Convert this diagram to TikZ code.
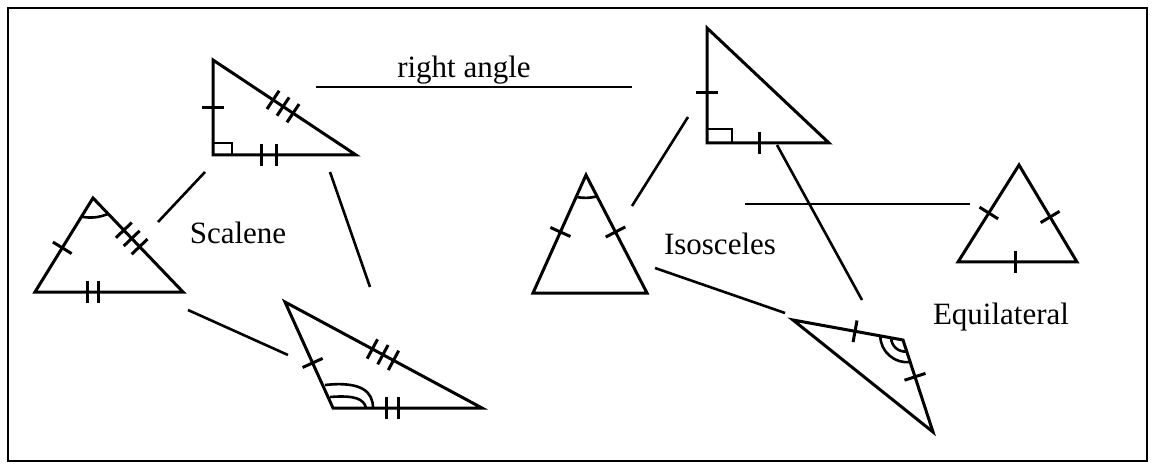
\documentclass[tikz,border=0pt]{standalone}
\usepackage{fontspec}
\setmainfont{Liberation Serif}
\usetikzlibrary{calc}
\tikzset{
  tri/.style={line width=1.5pt, line join=miter},
  conn/.style={line width=1.3pt},
  lbl/.style={font=\fontsize{15.5}{18}\selectfont, anchor=base, inner sep=0pt},
  frame/.style={line width=1pt},
  ang/.style={line width=1.3pt}
}
\newcommand{\tickset}[5]{%
  \coordinate (tkm) at ($(#1)!#3!(#2)$);
  \foreach \k in {1,...,#4}{%
    \pgfmathsetmacro{\tkoff}{(\k-(#4+1)/2)*#5}%
    \coordinate (tkc) at ($(tkm)!\tkoff pt!(#2)$);
    \draw[tri] ($(tkc)!5.5pt!90:(#2)$) -- ($(tkc)!5.5pt!-90:(#2)$);
  }%
}
\begin{document}
\begin{tikzpicture}[x=0.5pt, y=-0.5pt]
\useasboundingbox (0,0) rectangle (1156,470);
\draw[frame] (8,8) rectangle (1147,461);

% Triangle 1 (right scalene)
\coordinate (A1) at (213,60);
\coordinate (B1) at (213,155);
\coordinate (C1) at (356,155);
\draw[tri] (A1) -- (B1) -- (C1) -- cycle;
\draw[ang] (213,143) -- (232,143) -- (232,155);
\tickset{A1}{B1}{0.505}{1}{0}
\tickset{B1}{C1}{0.39}{2}{7.5}
\tickset{A1}{C1}{0.49}{3}{6}

% Triangle 2 (acute scalene)
\coordinate (A2) at (93,198);
\coordinate (B2) at (35,292);
\coordinate (C2) at (183,292);
\draw[tri] (A2) -- (B2) -- (C2) -- cycle;
\draw[ang] ($(A2)!11pt!(B2)$) to[bend right=15] ($(A2)!11pt!(C2)$);
\tickset{A2}{B2}{0.53}{1}{0}
\tickset{A2}{C2}{0.43}{3}{5.7}
\tickset{B2}{C2}{0.39}{2}{5.5}

% Triangle 3 (obtuse scalene)
\coordinate (A3) at (285,302);
\coordinate (B3) at (333,408);
\coordinate (C3) at (482,408);
\draw[tri] (A3) -- (B3) -- (C3) -- cycle;
\draw[ang] (325,385) .. controls (362,381) and (373,392) .. (373,408);
\draw[ang] (330,397) .. controls (355,395) and (364,399) .. (366,408);
\tickset{A3}{B3}{0.575}{1}{0}
\tickset{A3}{C3}{0.497}{3}{6}
\tickset{B3}{C3}{0.396}{2}{6}

% Triangle 4 (right isosceles)
\coordinate (A4) at (707,28);
\coordinate (B4) at (707,143);
\coordinate (C4) at (829,143);
\draw[tri] (A4) -- (B4) -- (C4) -- cycle;
\draw[ang] (707,129) -- (732,129) -- (732,143);
\tickset{A4}{B4}{0.557}{1}{0}
\tickset{B4}{C4}{0.434}{1}{0}

% Triangle 5 (acute isosceles)
\coordinate (A5) at (586,175);
\coordinate (B5) at (533,293);
\coordinate (C5) at (647,293);
\draw[tri] (A5) -- (B5) -- (C5) -- cycle;
\draw[ang] ($(A5)!12pt!(B5)$) to[bend right=12] ($(A5)!12pt!(C5)$);
\tickset{A5}{B5}{0.483}{1}{0}
\tickset{A5}{C5}{0.483}{1}{0}

% Triangle 6 (obtuse isosceles)
\coordinate (A6) at (793,320);
\coordinate (B6) at (903,340);
\coordinate (C6) at (933,432);
\draw[tri] (A6) -- (B6) -- (C6) -- cycle;
\draw[ang] ($(B6)!11.5pt!(A6)$) to[bend right=50] ($(B6)!11.5pt!(C6)$);
\draw[ang] ($(B6)!6pt!(A6)$) to[bend right=50] ($(B6)!6pt!(C6)$);
\tickset{A6}{B6}{0.564}{1}{0}
\tickset{B6}{C6}{0.40}{1}{0}

% Triangle 7 (equilateral)
\coordinate (A7) at (1019,165);
\coordinate (B7) at (958,262);
\coordinate (C7) at (1077,262);
\draw[tri] (A7) -- (B7) -- (C7) -- cycle;
\tickset{A7}{B7}{0.495}{1}{0}
\tickset{A7}{C7}{0.536}{1}{0}
\tickset{B7}{C7}{0.487}{1}{0}

% Connector end points
\coordinate (l1a) at (316,87);  \coordinate (l1b) at (632,87);
\coordinate (l2a) at (205,172); \coordinate (l2b) at (158,222);
\coordinate (l3a) at (330,172); \coordinate (l3b) at (370,287);
\coordinate (l4a) at (188,310); \coordinate (l4b) at (288,355);
\coordinate (l5a) at (688,117); \coordinate (l5b) at (632,206);
\coordinate (l6a) at (777,145); \coordinate (l6b) at (862,300);
\coordinate (l7a) at (745,204); \coordinate (l7b) at (970,204);
\coordinate (l8a) at (655,268); \coordinate (l8b) at (785,313);
\draw[conn] (l1a) -- (l1b);
\draw[conn] (l2a) -- (l2b);
\draw[conn] (l3a) -- (l3b);
\draw[conn] (l4a) -- (l4b);
\draw[conn] (l5a) -- (l5b);
\draw[conn] (l6a) -- (l6b);
\draw[conn] (l7a) -- (l7b);
\draw[conn] (l8a) -- (l8b);

% Labels
\node[lbl] (ra) at (464,78) {right angle};
\node[lbl] (sc) at (238,244) {Scalene};
\node[lbl] (is) at (720,255) {Isosceles};
\node[lbl] (eq) at (1001,324) {Equilateral};
\end{tikzpicture}
\end{document}
